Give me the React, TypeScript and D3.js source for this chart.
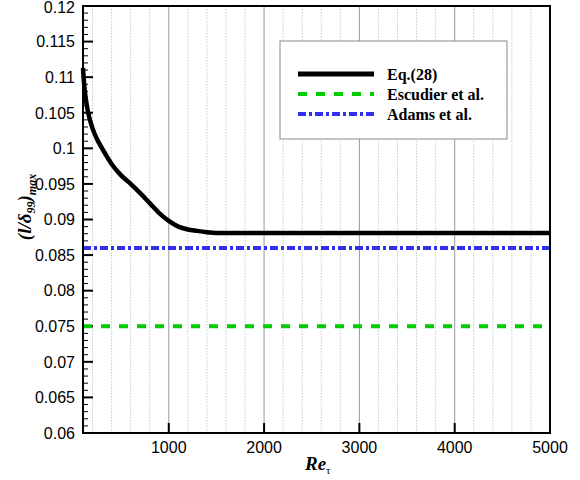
import React from "react";
import * as d3 from "d3";

const xTickValues = [1000, 2000, 3000, 4000, 5000];
const yTickValues = [0.06, 0.065, 0.07, 0.075, 0.08, 0.085, 0.09, 0.095, 0.1, 0.105, 0.11, 0.115, 0.12];
const yTickLabels = ["0.06", "0.065", "0.07", "0.075", "0.08", "0.085", "0.09", "0.095", "0.1", "0.105", "0.11", "0.115", "0.12"];

const eqRe = [100, 110, 125, 150, 200, 250, 300, 400, 500, 600, 700, 800, 900, 1000, 1100, 1200, 1300, 1400, 1500, 1700, 5000];
const eqVal = [0.1113, 0.1093, 0.1074, 0.1053, 0.1028, 0.1012, 0.1000, 0.0978, 0.0962, 0.0950, 0.0937, 0.0923, 0.0909, 0.0898, 0.0890, 0.0886, 0.0884, 0.0882, 0.0881, 0.0881, 0.0881];

const lineRe = [100, 5000];
const escudierVal = [0.075, 0.075];
const adamsVal = [0.086, 0.086];

const legendLabels = ["Eq.(28)", "Escudier et al.", "Adams et al."];
const colors = ["#000000", "#00cc00", "#3030f0"];
const dashes = ["none", "9,9", "8,3,3,3"];

export default function App() {
  const L = 83, R = 550, T = 6, B = 433;
  const x = d3.scaleLinear().domain([100, 5000]).range([L, R]);
  const y = d3.scaleLinear().domain([0.06, 0.12]).range([B, T]);

  const eqPath = d3.line<[number, number]>().x(d => x(d[0])).y(d => y(d[1])).curve(d3.curveMonotoneX)(eqRe.map((r, i) => [r, eqVal[i]] as [number, number])) || "";
  const escPath = d3.line<[number, number]>().x(d => x(d[0])).y(d => y(d[1]))(lineRe.map((r, i) => [r, escudierVal[i]] as [number, number])) || "";
  const adamsPath = d3.line<[number, number]>().x(d => x(d[0])).y(d => y(d[1]))(lineRe.map((r, i) => [r, adamsVal[i]] as [number, number])) || "";

  const minorX = d3.range(200, 5000, 200).filter(v => v % 1000 !== 0);
  const majorX = [1000, 2000, 3000, 4000];
  const minorY = d3.range(0, 61).map(i => 0.06 + i * 0.001).filter((v, i) => i % 5 !== 0);

  const legendX = 280, legendY = 41, legendW = 227, legendH = 98;
  const rowYs = [74, 94, 114];

  return (
    <svg width={580} height={480} style={{ position: "fixed", left: 0, top: 0, background: "#fff" }}>
      <rect x={0} y={0} width={580} height={480} fill="#fff" />
      {/* grid */}
      {minorX.map(v => (
        <line key={"mx" + v} x1={x(v)} x2={x(v)} y1={T} y2={B} stroke="#bbbbbb" strokeWidth={0.8} strokeDasharray="1.5,1.5" />
      ))}
      {majorX.map(v => (
        <line key={"Mx" + v} x1={x(v)} x2={x(v)} y1={T} y2={B} stroke="#999999" strokeWidth={1} />
      ))}
      {/* ticks */}
      {minorY.map((v, i) => (
        <line key={"my" + i} x1={L} x2={L + 5} y1={y(v)} y2={y(v)} stroke="#000" strokeWidth={1} />
      ))}
      {yTickValues.map(v => (
        <line key={"My" + v} x1={L} x2={L + 10} y1={y(v)} y2={y(v)} stroke="#000" strokeWidth={2} />
      ))}
      {xTickValues.map(v => (
        <line key={"Mxt" + v} x1={x(v)} x2={x(v)} y1={B} y2={B - 10} stroke="#000" strokeWidth={2} />
      ))}
      {/* data */}
      <path d={escPath} fill="none" stroke={colors[1]} strokeWidth={4} strokeDasharray={dashes[1]} />
      <path d={adamsPath} fill="none" stroke={colors[2]} strokeWidth={4} strokeDasharray={dashes[2]} />
      <path d={eqPath} fill="none" stroke={colors[0]} strokeWidth={4.5} />
      {/* frame */}
      <rect x={L} y={T} width={R - L} height={B - T} fill="none" stroke="#000" strokeWidth={2} />
      {/* tick labels */}
      {yTickValues.map((v, i) => (
        <text key={"yl" + v} x={L - 8} y={Math.max(y(v), 7.5)} dy="0.36em" textAnchor="end" fontFamily="Liberation Sans, Arial, sans-serif" fontSize={16} fill="#000">
          {yTickLabels[i]}
        </text>
      ))}
      {xTickValues.map(v => (
        <text key={"xl" + v} x={x(v)} y={453} textAnchor="middle" fontFamily="Liberation Sans, Arial, sans-serif" fontSize={16} fill="#000">
          {String(v)}
        </text>
      ))}
      {/* axis titles */}
      <text x={305} y={470} fontFamily="Liberation Serif, Times New Roman, serif" fontWeight="bold" fontStyle="italic" fontSize={19} fill="#000">
        Re<tspan fontSize={11} fontStyle="normal" fontWeight="normal" dy={4}>τ</tspan>
      </text>
      <text transform="translate(31,207) rotate(-90)" textAnchor="middle" fontFamily="Liberation Serif, Times New Roman, serif" fontWeight="bold" fontStyle="italic" fontSize={19} fill="#000">
        (l/δ<tspan fontSize={12} dy={4}>99</tspan><tspan dy={-4}>)</tspan><tspan fontSize={12} dy={5}>max</tspan>
      </text>
      {/* legend */}
      <rect x={legendX} y={legendY} width={legendW} height={legendH} fill="#fff" stroke="#888" strokeWidth={1} />
      {legendLabels.map((lab, i) => (
        <g key={lab}>
          <line x1={298} x2={374} y1={rowYs[i]} y2={rowYs[i]} stroke={colors[i]} strokeWidth={i === 0 ? 5 : 4} strokeDasharray={dashes[i]} />
          <text x={387} y={rowYs[i]} dy="0.35em" fontFamily="Liberation Serif, Times New Roman, serif" fontWeight="bold" fontSize={16} fill="#000">
            {lab}
          </text>
        </g>
      ))}
    </svg>
  );
}
